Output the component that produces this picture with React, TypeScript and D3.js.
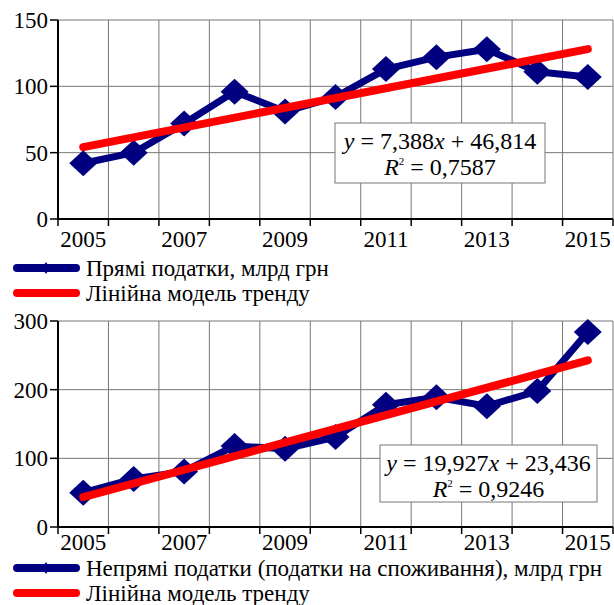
import React from 'react';
import * as d3 from 'd3';

const years = ['2005', '2006', '2007', '2008', '2009', '2010', '2011', '2012', '2013', '2014', '2015'];
const xTickLabels = ['2005', '2007', '2009', '2011', '2013', '2015'];
const directTaxes = [42, 50, 72, 96, 81, 92, 113, 122, 128, 111, 107];
const indirectTaxes = [50, 70, 81, 118, 114, 131, 178, 189, 176, 198, 284];
const directTrend = [7.388, 46.814];
const indirectTrend = [19.927, 23.436];
const directTicks = [0, 50, 100, 150];
const indirectTicks = [0, 100, 200, 300];
const directEq = ['7,388', '46,814', '0,7587'];
const indirectEq = ['19,927', '23,436', '0,9246'];
const directLegend = 'Прямі податки, млрд грн';
const indirectLegend = 'Непрямі податки (податки на споживання), млрд грн';
const trendLegend = 'Лінійна модель тренду';

const NAVY = '#000080';
const RED = '#ff0000';
const TS: React.CSSProperties = { fontFamily: 'Liberation Serif' };

type PanelProps = {
  values: number[];
  trend: number[];
  ticks: number[];
  eq: string[];
  legend: string;
  top: number;
  bottom: number;
  box: { x: number; y: number; w: number; h: number };
  labelY: number;
  leg1: number;
  leg2: number;
};

function diamond(cx: number, cy: number, hw: number, hh: number) {
  return `M${cx},${cy - hh}L${cx + hw},${cy}L${cx},${cy + hh}L${cx - hw},${cy}Z`;
}

function Panel(p: PanelProps) {
  const left = 58;
  const right = 613;
  const x = d3.scaleBand<string>().domain(years).range([left, right]);
  const y = d3.scaleLinear().domain([p.ticks[0], p.ticks[p.ticks.length - 1]]).range([p.bottom, p.top]);
  const cx = (yr: string) => (x(yr) as number) + x.bandwidth() / 2;
  const line = d3.line<number>().x((_, i) => cx(years[i])).y((v) => y(v));
  const trendVals = [1, years.length].map((t) => p.trend[0] * t + p.trend[1]);
  const boundaries = years.map((yr) => x(yr) as number).concat([right]);
  const eqMid = p.box.x + p.box.w / 2;
  return (
    <g>
      {p.ticks.map((t) => (
        <line key={'h' + t} x1={left} x2={right} y1={y(t)} y2={y(t)} stroke="#777" strokeWidth={1} />
      ))}
      {boundaries.map((b, i) => (
        <line key={'v' + i} x1={b} x2={b} y1={p.top} y2={p.bottom} stroke="#777" strokeWidth={1} />
      ))}
      <path d={line(p.values) || ''} fill="none" stroke={NAVY} strokeWidth={7} strokeLinejoin="round" />
      {p.values.map((v, i) => (
        <path key={'m' + i} d={diamond(cx(years[i]), y(v), 14, 13)} fill={NAVY} />
      ))}
      <line
        x1={cx(years[0])}
        x2={cx(years[years.length - 1])}
        y1={y(trendVals[0])}
        y2={y(trendVals[1])}
        stroke={RED}
        strokeWidth={8}
        strokeLinecap="round"
      />
      <line x1={left} x2={left} y1={p.top} y2={p.bottom} stroke="#000" strokeWidth={2} />
      <line x1={left} x2={right} y1={p.bottom} y2={p.bottom} stroke="#000" strokeWidth={2} />
      {p.ticks.map((t) => (
        <g key={'yt' + t}>
          <line x1={left - 8} x2={left} y1={y(t)} y2={y(t)} stroke="#000" strokeWidth={1.5} />
          <text style={TS} x={left - 10} y={y(t)} dy="0.35em" textAnchor="end" fontSize={23} fill="#000">
            {t}
          </text>
        </g>
      ))}
      {boundaries.map((b, i) => (
        <line key={'xt' + i} x1={b} x2={b} y1={p.bottom} y2={p.bottom + 7} stroke="#000" strokeWidth={1.5} />
      ))}
      {xTickLabels.map((l) => (
        <text style={TS} key={'xl' + l} x={cx(l)} y={p.labelY} textAnchor="middle" fontSize={23} fill="#000">
          {l}
        </text>
      ))}
      <rect x={p.box.x} y={p.box.y} width={p.box.w} height={p.box.h} fill="#fff" stroke="#777" strokeWidth={1} />
      <text style={TS} x={eqMid} y={p.box.y + 26} textAnchor="middle" fontSize={24} fill="#000">
        <tspan fontStyle="italic">y</tspan>
        <tspan>{' = ' + p.eq[0]}</tspan>
        <tspan fontStyle="italic">x</tspan>
        <tspan>{' + ' + p.eq[1]}</tspan>
      </text>
      <text style={TS} x={eqMid} y={p.box.y + 52} textAnchor="middle" fontSize={24} fill="#000">
        <tspan fontStyle="italic">R</tspan>
        <tspan fontSize={11} dy={-10}>2</tspan>
        <tspan dy={10}>{' = ' + p.eq[2]}</tspan>
      </text>
      <line x1={17} x2={76} y1={p.leg1} y2={p.leg1} stroke={NAVY} strokeWidth={8} strokeLinecap="round" />
      <path d={diamond(46, p.leg1, 4, 6)} fill={NAVY} />
      <text style={TS} x={86} y={p.leg1} dy="0.35em" fontSize={23} fill="#000">
        {p.legend}
      </text>
      <line x1={17} x2={76} y1={p.leg2} y2={p.leg2} stroke={RED} strokeWidth={8} strokeLinecap="round" />
      <text style={TS} x={86} y={p.leg2} dy="0.35em" fontSize={23} fill="#000">
        {trendLegend}
      </text>
    </g>
  );
}

export default function App() {
  return (
    <svg width={614} height={605} style={{ position: 'absolute', left: 0, top: 0, background: '#fff', fontFamily: 'Liberation Serif' }}>
      <rect width={614} height={605} fill="#fff" />
      <Panel
        values={directTaxes}
        trend={directTrend}
        ticks={directTicks}
        eq={directEq}
        legend={directLegend}
        top={20}
        bottom={219}
        box={{ x: 335, y: 123, w: 210, h: 60 }}
        labelY={247}
        leg1={268}
        leg2={293}
      />
      <Panel
        values={indirectTaxes}
        trend={indirectTrend}
        ticks={indirectTicks}
        eq={indirectEq}
        legend={indirectLegend}
        top={321}
        bottom={527}
        box={{ x: 380, y: 445, w: 217, h: 57 }}
        labelY={550}
        leg1={568}
        leg2={593}
      />
    </svg>
  );
}
